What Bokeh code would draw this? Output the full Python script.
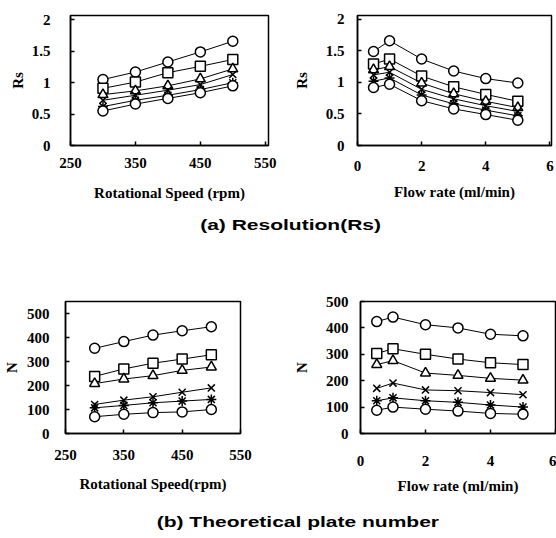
from bokeh.plotting import figure
from bokeh.layouts import column, row
from bokeh.models import Range1d, FixedTicker, CustomJSTickFormatter, Div
from bokeh.embed import file_html
from bokeh.resources import INLINE

# ---------------- data ----------------
speed = [300, 350, 400, 450, 500]
flow = [0.5, 1, 2, 3, 4, 5]

rs_speed_1 = [1.05, 1.17, 1.33, 1.49, 1.66]
rs_speed_2 = [0.91, 1.01, 1.16, 1.26, 1.37]
rs_speed_3 = [0.81, 0.87, 0.95, 1.06, 1.22]
rs_speed_4 = [0.72, 0.80, 0.88, 0.97, 1.13]
rs_speed_5 = [0.62, 0.72, 0.80, 0.89, 1.00]
rs_speed_6 = [0.55, 0.66, 0.75, 0.84, 0.95]

rs_flow_1 = [1.49, 1.66, 1.37, 1.18, 1.06, 0.99]
rs_flow_2 = [1.29, 1.37, 1.10, 0.93, 0.81, 0.70]
rs_flow_3 = [1.20, 1.25, 0.99, 0.82, 0.70, 0.60]
rs_flow_4 = [1.12, 1.16, 0.89, 0.74, 0.63, 0.54]
rs_flow_5 = [1.02, 1.07, 0.80, 0.66, 0.56, 0.47]
rs_flow_6 = [0.92, 0.97, 0.71, 0.58, 0.49, 0.40]

n_speed_1 = [355, 383, 410, 428, 445]
n_speed_2 = [238, 269, 293, 310, 328]
n_speed_3 = [208, 227, 241, 263, 277]
n_speed_4 = [121, 139, 153, 172, 190]
n_speed_5 = [107, 117, 128, 135, 142]
n_speed_6 = [70, 80, 87, 90, 100]

n_flow_1 = [424, 441, 412, 400, 376, 370]
n_flow_2 = [303, 321, 300, 282, 268, 261]
n_flow_3 = [261, 276, 229, 220, 209, 202]
n_flow_4 = [171, 191, 165, 162, 155, 147]
n_flow_5 = [124, 135, 124, 118, 108, 100]
n_flow_6 = [88, 100, 92, 85, 76, 73]

rs_ticks = [0, 0.5, 1, 1.5, 2]
n_ticks = [0, 100, 200, 300, 400, 500]
speed_ticks = [250, 350, 450, 550]
flow_ticks = [0, 2, 4, 6]

markers = ["circle", "square", "triangle", "x", "asterisk", "circle"]

SERIF = "Liberation Serif"
SANS = "Liberation Sans"


def make_fig(w, h, bl, br, bt, bb, xr, yr, xticks, yticks, xlabel, ylabel,
             xstand, xlstand, ystand, ylstand, tick_fs="15px"):
    p = figure(width=w, height=h, x_range=Range1d(*xr), y_range=Range1d(*yr),
               output_backend="svg", toolbar_location=None,
               min_border_left=bl, min_border_right=br,
               min_border_top=bt, min_border_bottom=bb)
    p.grid.visible = False
    p.background_fill_color = "white"
    p.border_fill_color = "white"
    p.outline_line_color = "black"
    p.outline_line_width = 1.5
    fmt = CustomJSTickFormatter(code="return String(tick)")
    for ax, ticks, lab, st, lst in ((p.xaxis[0], xticks, xlabel, xstand, xlstand),
                                    (p.yaxis[0], yticks, ylabel, ystand, ylstand)):
        ax.ticker = FixedTicker(ticks=ticks)
        ax.formatter = fmt
        ax.axis_label = lab
        ax.axis_line_color = "black"
        ax.axis_line_width = 1.5
        ax.major_tick_in = 4
        ax.major_tick_out = 0
        ax.major_tick_line_color = "black"
        ax.major_tick_line_width = 1.5
        ax.minor_tick_line_color = None
        ax.major_label_standoff = st
        ax.axis_label_standoff = lst
        ax.major_label_text_font = SERIF
        ax.major_label_text_font_style = "bold"
        ax.major_label_text_font_size = tick_fs
        ax.major_label_text_color = "black"
        ax.axis_label_text_font = SERIF
        ax.axis_label_text_font_style = "bold"
        ax.axis_label_text_font_size = "15px"
        ax.axis_label_text_color = "black"
    return p


def draw(p, x, series):
    for ys, m in zip(series, markers):
        p.line(x, ys, line_color="black", line_width=1)
        p.scatter(x, ys, marker=m, size=10, fill_color="white",
                  line_color="black", line_width=1.5)


# ---------------- panels ----------------
f1 = make_fig(290, 213, 70, 22, 15, 61, (250, 555), (0, 2.07), speed_ticks, rs_ticks,
              "Rotational Speed (rpm)", "Rs", 12, 14, 20, 3)
draw(f1, speed, [rs_speed_1, rs_speed_2, rs_speed_3, rs_speed_4, rs_speed_5, rs_speed_6])

f2 = make_fig(266, 213, 66, 5, 15, 68, (0, 6.05), (0, 2.06), flow_ticks, rs_ticks,
              "Flow rate (ml/min)", "Rs", 15, 10, 13, 13)
draw(f2, flow, [rs_flow_1, rs_flow_2, rs_flow_3, rs_flow_4, rs_flow_5, rs_flow_6])

f3 = make_fig(290, 275, 60, 50, 63, 79, (250, 550), (0, 550), speed_ticks, n_ticks,
              "Rotational Speed(rpm)", "N", 16, 13, 16, 4)
draw(f3, speed, [n_speed_1, n_speed_2, n_speed_3, n_speed_4, n_speed_5, n_speed_6])

f4 = make_fig(266, 275, 70, 1, 64, 70, (0, 6), (0, 500), flow_ticks, n_ticks,
              "Flow rate (ml/min)", "N", 22, 9, 12, 13)
draw(f4, flow, [n_flow_1, n_flow_2, n_flow_3, n_flow_4, n_flow_5, n_flow_6])


def title_div(txt, h, pad):
    html = ('<div style="width:556px;height:%dpx;line-height:%dpx;text-align:center;'
            'padding-left:%dpx;box-sizing:border-box;font-family:\'%s\',Arial,sans-serif;'
            'font-weight:bold;font-size:15px;color:black;white-space:nowrap;">'
            '<span style="display:inline-block;transform:scaleX(1.4);">%s</span></div>'
            % (h, h, pad, SANS, txt))
    return Div(text=html, width=556, height=h, margin=0)


div_a = title_div("(a) Resolution(Rs)", 24, 26)
div_b = title_div("(b) Theoretical plate number", 20, 40)

layout = column(row(f1, f2, spacing=0), div_a, row(f3, f4, spacing=0), div_b, spacing=0)

open("out.html", "w").write(file_html(layout, INLINE))
